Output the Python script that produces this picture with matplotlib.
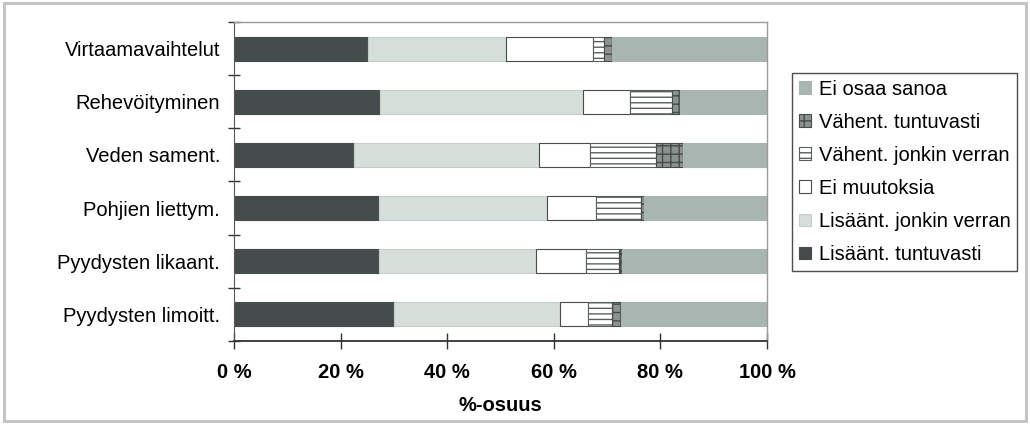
import matplotlib
matplotlib.use("Agg")
import matplotlib.pyplot as plt
from matplotlib.patches import Rectangle
import numpy as np

plt.rcParams['font.family'] = ['Liberation Sans', 'DejaVu Sans']

categories = ["Virtaamavaihtelut", "Rehevöityminen", "Veden sament.",
              "Pohjien liettym.", "Pyydysten likaant.", "Pyydysten limoitt."]

series_names = ["Lisäänt. tuntuvasti", "Lisäänt. jonkin verran", "Ei muutoksia",
                "Vähent. jonkin verran", "Vähent. tuntuvasti", "Ei osaa sanoa"]

lisaant_tuntuvasti = [25.2, 27.4, 22.6, 27.2, 27.2, 30.1]
lisaant_jonkin = [25.9, 38.0, 34.6, 31.5, 29.5, 31.0]
ei_muutoksia = [16.2, 8.9, 9.5, 9.2, 9.4, 5.3]
vahent_jonkin = [2.1, 7.8, 12.5, 8.4, 6.2, 4.6]
vahent_tuntuvasti = [1.6, 1.6, 5.0, 0.6, 0.5, 1.6]
ei_osaa = [29.0, 16.3, 15.8, 23.1, 27.2, 27.4]

x_ticks = [0, 20, 40, 60, 80, 100]
x_ticklabels = ["0 %", "20 %", "40 %", "60 %", "80 %", "100 %"]

series = [lisaant_tuntuvasti, lisaant_jonkin, ei_muutoksia,
          vahent_jonkin, vahent_tuntuvasti, ei_osaa]
styles = [
    dict(facecolor="#464c4b", edgecolor="#464c4b", hatch=None),
    dict(facecolor="#d6deda", edgecolor="#c6ceca", hatch=None),
    dict(facecolor="#ffffff", edgecolor="#464c4b", hatch=None),
    dict(facecolor="#ffffff", edgecolor="#5a605f", hatch="---"),
    dict(facecolor="#8a918f", edgecolor="#464c4b", hatch="++"),
    dict(facecolor="#a9b5b0", edgecolor="#a9b5b0", hatch=None),
]

FS = 14.5

fig = plt.figure(figsize=(10.30, 4.24), dpi=100)
fig.patch.set_facecolor("white")
fig.add_artist(Rectangle((0.004, 0.006), 0.992, 0.988, transform=fig.transFigure,
                         fill=False, edgecolor="#c4c4c4", linewidth=2.2))

ax = fig.add_axes([234 / 1030, 1 - 341 / 424, 533 / 1030, 319 / 424])
ypos = np.arange(len(categories))[::-1]
left = np.zeros(len(categories))
handles = []
for name, vals, st in zip(series_names, series, styles):
    vals = np.array(vals, dtype=float)
    bars = ax.barh(ypos, vals, left=left, height=0.45, label=name,
                   facecolor=st["facecolor"], edgecolor=st["edgecolor"],
                   hatch=st["hatch"], linewidth=0.8)
    handles.append(bars)
    left += vals

ax.set_xlim(0, 100)
ax.set_ylim(-0.5, len(categories) - 0.5)
ax.set_xticks(x_ticks)
ax.set_xticklabels(x_ticklabels, fontsize=FS, fontweight="bold")
ax.tick_params(axis="x", direction="inout", length=12, width=1, color="#333333", pad=10)
ax.set_yticks(ypos)
ax.set_yticklabels(categories, fontsize=FS)
ax.tick_params(axis="y", which="major", length=0, pad=10)
ax.set_yticks(np.arange(-0.5, len(categories) - 0.4, 1.0), minor=True)
ax.tick_params(axis="y", which="minor", direction="inout", length=9, width=1, color="#333333")
ax.set_xlabel("%-osuus", fontsize=FS, fontweight="bold", labelpad=10)

for side in ("top", "right"):
    ax.spines[side].set_color("#9a9a9a")
    ax.spines[side].set_linewidth(1.0)
ax.spines["left"].set_color("#555555")
ax.spines["bottom"].set_color("#333333")
ax.spines["bottom"].set_linewidth(1.3)

leg = fig.legend(handles[::-1], series_names[::-1],
                 loc="upper left", bbox_to_anchor=(792 / 1030, 1 - 73 / 424),
                 fontsize=FS, frameon=True, fancybox=False,
                 handlelength=0.6, handleheight=0.6, handletextpad=0.4,
                 labelspacing=0.7, borderpad=0.33, borderaxespad=0.0)
leg.get_frame().set_edgecolor("#222222")
leg.get_frame().set_linewidth(1.0)

fig.savefig("out.png", dpi=100)
